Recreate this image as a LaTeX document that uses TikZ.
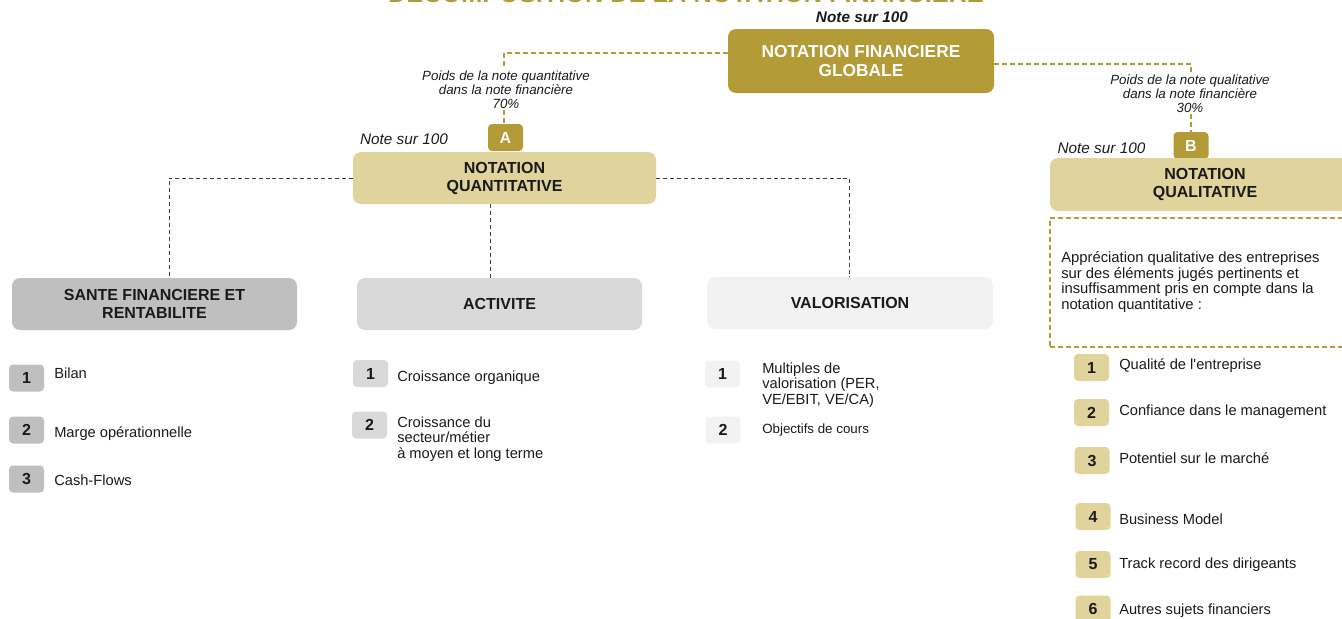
\documentclass[tikz,border=0pt]{standalone}
\usepackage{fontspec}
\setmainfont{Liberation Sans}
\usetikzlibrary{calc}
\definecolor{golddark}{HTML}{B39B37}
\definecolor{goldlight}{HTML}{E0D39B}
\definecolor{grayA}{HTML}{BFBFBF}
\definecolor{grayB}{HTML}{D9D9D9}
\definecolor{grayC}{HTML}{F2F2F2}
\definecolor{ink}{HTML}{1A1A1A}
\tikzset{
  box/.style={rounded corners=6pt, inner sep=0pt, align=center, text=ink,
    font=\fontsize{12}{13.5}\selectfont\bfseries},
  badge/.style={rounded corners=3pt, inner sep=0pt, minimum width=26.25pt,
    minimum height=20.25pt, font=\fontsize{12}{14}\selectfont\bfseries, text=ink},
  item/.style={anchor=west, inner sep=0pt, align=left, text=ink,
    font=\fontsize{11}{11.6}\selectfont},
  weight/.style={inner sep=0pt, align=center, text=ink,
    font=\fontsize{10}{10.5}\selectfont\itshape},
  golddash/.style={draw=golddark, line width=0.8pt, dash pattern=on 3.5pt off 2.5pt},
  blackdash/.style={draw=ink!85, line width=0.75pt, dash pattern=on 3pt off 2.2pt},
}
\begin{document}
\begin{tikzpicture}[x=0.75pt, y=-0.75pt]
\useasboundingbox (0,0) rectangle (1342,618);

% title (clipped at top, as in the reference)
\node[anchor=base, text=golddark, inner sep=0pt, font=\fontsize{19}{19}\selectfont\bfseries] (title) at (686,2) {DECOMPOSITION DE LA NOTATION FINANCIERE};

% global
\node[anchor=center, inner sep=0pt, text=ink, font=\fontsize{11.5}{12}\selectfont\bfseries\itshape] (ng) at (862,17) {Note sur 100};
\node[box, fill=golddark, text=white, minimum width=199.5pt, minimum height=48pt,
  font=\fontsize{13}{14.5}\selectfont\bfseries] (global) at (861,61) {NOTATION FINANCIERE\\GLOBALE};

% weights
\node[weight] (lblA) at (506,90) {Poids de la note quantitative\\dans la note financière\\70\%};
\node[weight] (lblB) at (1190,94) {Poids de la note qualitative\\dans la note financière\\30\%};

% quantitative
\node[badge, fill=golddark, text=white] (A) at (505.5,137.5) {A};
\node[anchor=center, inner sep=0pt, text=ink, font=\fontsize{11.5}{12}\selectfont\itshape] (nA) at (404,139) {Note sur 100};
\node[box, fill=goldlight, minimum width=227.25pt, minimum height=39pt] (quant) at (504.5,178) {NOTATION\\QUANTITATIVE};

% qualitative
\node[badge, fill=golddark, text=white] (B) at (1191,145.5) {B};
\node[anchor=center, inner sep=0pt, text=ink, font=\fontsize{11.5}{12}\selectfont\itshape] (nB) at (1101.5,148) {Note sur 100};
\node[box, fill=goldlight, minimum width=232.5pt, minimum height=39.75pt] (qual) at (1205,184.5) {NOTATION\\QUALITATIVE};
\node[golddash, rectangle, minimum width=232.5pt, minimum height=96.75pt, inner sep=0pt] (desc) at (1205,282.5) {};
\node[item, font=\fontsize{11.1}{11.7}\selectfont] (desctxt) at (1061,282) {Appréciation qualitative des entreprises\\sur des éléments jugés pertinents et\\insuffisamment pris en compte dans la\\notation quantitative :};

% sub categories
\node[box, fill=grayA, minimum width=213.75pt, minimum height=39pt] (sante) at (154.5,304) {SANTE FINANCIERE ET\\RENTABILITE};
\node[box, fill=grayB, minimum width=213.75pt, minimum height=39pt] (activ) at (499.5,304) {ACTIVITE};
\node[box, fill=grayC, minimum width=214.5pt, minimum height=39pt] (valo) at (850,303) {VALORISATION};

% connectors
\coordinate (gl) at ($(global.west)+(0,-8)$);
\coordinate (gr) at ($(global.east)+(0,3)$);
\draw[golddash] (gl) -| ($(lblA.north)+(-2,-2)$);
\draw[golddash] ($(lblA.south)+(-2,1)$) -- (A.north -| 504,0);
\draw[golddash] (gr) -| ($(lblB.north)+(1,-2)$);
\draw[golddash] ($(lblB.south)+(1,1)$) -- (B.north);
\draw[blackdash] (quant.west) -| ($(sante.north)+(14.5,0)$);
\draw[blackdash] (quant.south -| 490,0) -- (activ.north -| 490,0);
\draw[blackdash] (quant.east) -| ($(valo.north)+(-1,0)$);

% sante items
\node[badge, fill=grayA] (s1) at (26.5,378) {1};
\node[item] (s1t) at (54,373) {Bilan};
\node[badge, fill=grayA] (s2) at (26.5,430) {2};
\node[item] (s2t) at (54,434) {Marge opérationnelle};
\node[badge, fill=grayA] (s3) at (26.5,479) {3};
\node[item] (s3t) at (54,480) {Cash-Flows};

% activite items
\node[badge, fill=grayB] (a1) at (370.5,373.5) {1};
\node[item] (a1t) at (397,378) {Croissance organique};
\node[badge, fill=grayB] (a2) at (369.5,425) {2};
\node[item, font=\fontsize{11}{11.5}\selectfont] (a2t) at (397,439) {Croissance du\\secteur/métier\\à moyen et long terme};

% valorisation items
\node[badge, fill=grayC] (v1) at (722.5,374) {1};
\node[item, font=\fontsize{11}{11.5}\selectfont] (v1t) at (762,385) {Multiples de\\valorisation (PER,\\VE/EBIT, VE/CA)};
\node[badge, fill=grayC] (v2) at (723,430) {2};
\node[item, font=\fontsize{10}{11}\selectfont] (v2t) at (762,430) {Objectifs de cours};

% qualitative items
\node[badge, fill=goldlight] (q1) at (1091.5,367.5) {1};
\node[item] (q1t) at (1119,366) {Qualité de l\textquotesingle entreprise};
\node[badge, fill=goldlight] (q2) at (1091.5,412.5) {2};
\node[item] (q2t) at (1119,412) {Confiance dans le management};
\node[badge, fill=goldlight] (q3) at (1092,460.5) {3};
\node[item] (q3t) at (1119,458) {Potentiel sur le marché};
\node[badge, fill=goldlight] (q4) at (1093,516.5) {4};
\node[item] (q4t) at (1119,519) {Business Model};
\node[badge, fill=goldlight] (q5) at (1093,564.5) {5};
\node[item] (q5t) at (1119,565) {Track record des dirigeants};
\node[badge, fill=goldlight] (q6) at (1093,609) {6};
\node[item] (q6t) at (1119,611) {Autres sujets financiers};
\end{tikzpicture}
\end{document}
